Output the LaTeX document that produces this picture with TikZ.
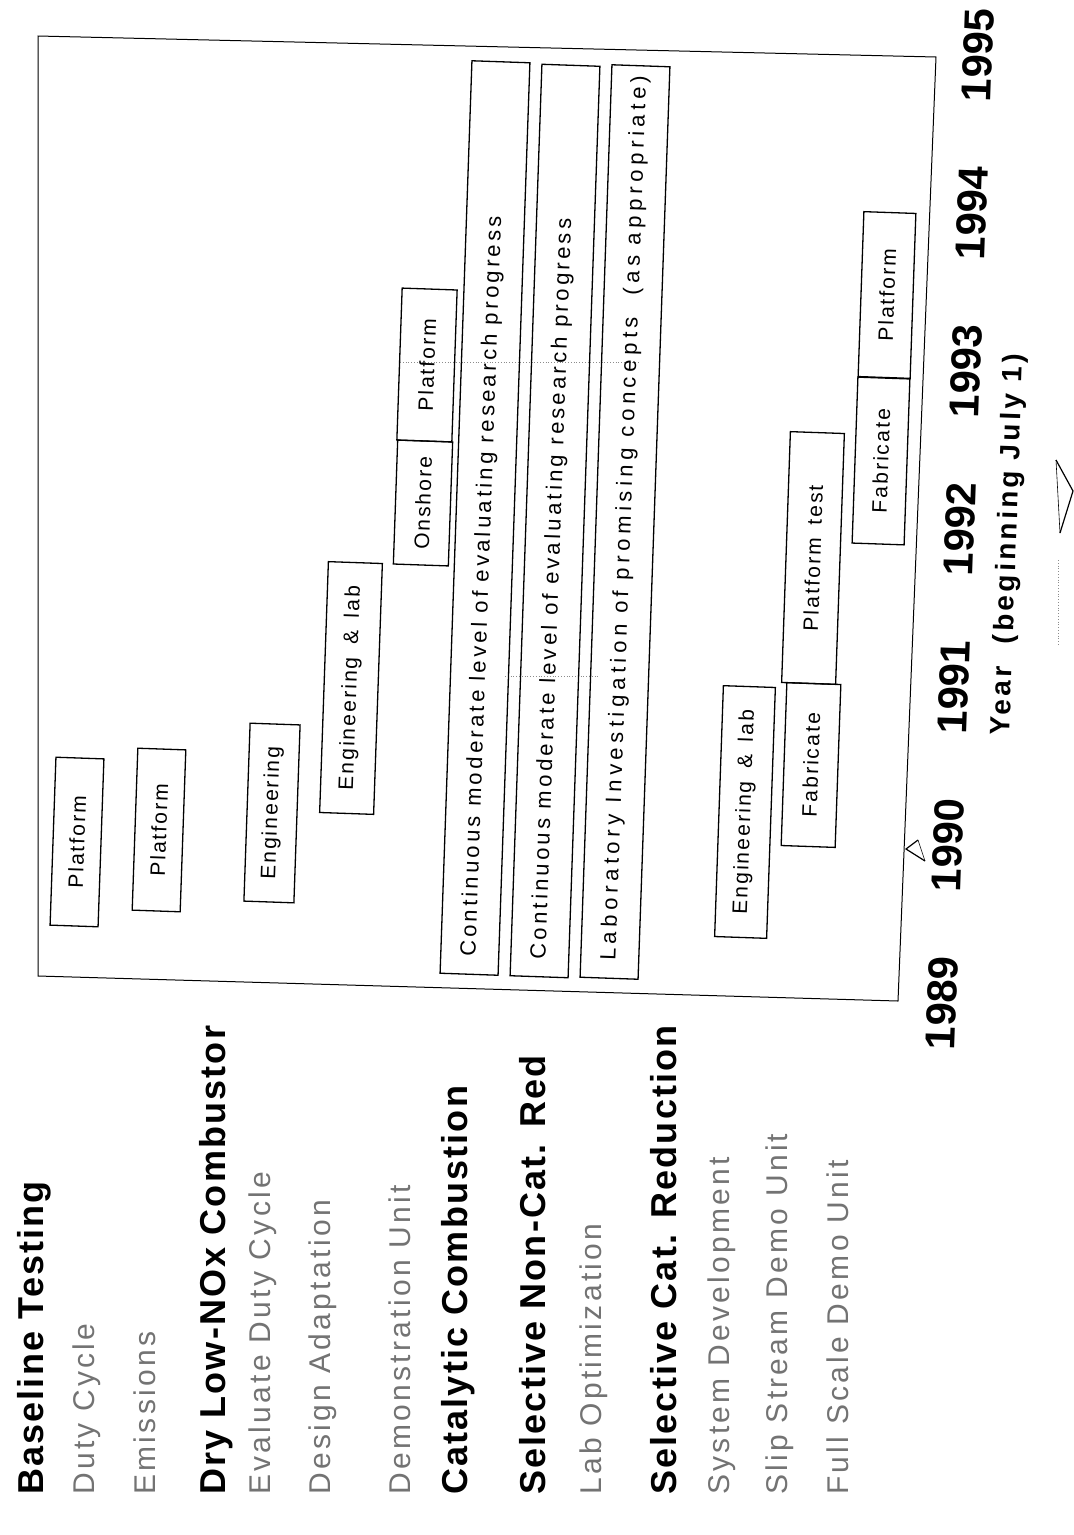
\documentclass[tikz,border=0pt]{standalone}
\usepackage{fontspec}
\setmainfont{Liberation Sans}
\newfontfamily\headfont[LetterSpace=6]{Liberation Sans}
\newfontfamily\rowfont[LetterSpace=11]{Liberation Sans}
\newfontfamily\barfont[LetterSpace=10,WordSpace=1.6]{Liberation Sans}
\newfontfamily\longfont[LetterSpace=15]{Liberation Sans}
\newfontfamily\labfont[LetterSpace=21]{Liberation Sans}
\newfontfamily\yearfont{Liberation Sans}
\newfontfamily\titlefont[LetterSpace=12]{Liberation Sans}

\begin{document}
\begin{tikzpicture}[x=1pt, y=1pt,
    head/.style={rotate=90, anchor=west, inner sep=0pt, font=\headfont\bfseries\fontsize{36}{40}\selectfont},
    row/.style={rotate=90, anchor=west, inner sep=0pt, text=black!55, font=\rowfont\fontsize{30}{34}\selectfont},
    task/.style={draw, line width=1.3pt, rotate=88, inner sep=0pt, font=\barfont\fontsize{21}{24}\selectfont},
    tasktext/.style={rotate=88, anchor=west, inner ysep=0pt, inner xsep=18pt},
    year/.style={rotate=88, inner sep=0pt, font=\yearfont\bfseries\fontsize{42}{46}\selectfont},
    ytitle/.style={rotate=88, inner sep=0pt, font=\titlefont\bfseries\fontsize{28}{30}\selectfont},
    speck/.style={dotted, black!45, line width=0.8pt}]

  \useasboundingbox (0,0) rectangle (1074,-1535);

  % ==================== row labels ====================
  \node[head] (hbase) at (34,-1495) {Baseline Testing};
  \node[row]  (rduty) at (87,-1495) {Duty Cycle};
  \node[row]  (remis) at (145,-1495) {Emissions};
  \node[head] (hdln)  at (216,-1495) {Dry Low-NOx Combustor};
  \node[row]  (reval) at (263,-1495) {Evaluate Duty Cycle};
  \node[row]  (rdes)  at (323,-1495) {Design Adaptation};
  \node[row]  (rdemo) at (400,-1495) {Demonstration Unit};
  \node[head] (hcat)  at (458,-1495) {Catalytic Combustion};
  \node[head] (hsncr) at (533,-1495) {Selective Non-Cat. Red};
  \node[row]  (rlab)  at (594,-1495) {Lab Optimization};
  \node[head] (hscr)  at (664,-1495) {Selective Cat. Reduction};
  \node[row]  (rsys)  at (722,-1495) {System Development};
  \node[row]  (rslip) at (780,-1495) {Slip Stream Demo Unit};
  \node[row]  (rfull) at (838,-1495) {Full Scale Demo Unit};

  % ==================== frame ====================
  \draw[line width=1pt] (38,-36) -- (936,-57) -- (898,-1001) -- (38,-976) -- cycle;
  % faint grid marks
  \draw[speck] (400,-362) -- (640,-362);
  \draw[speck] (505,-676) -- (600,-676);

  % ==================== bars ====================
  % baseline testing
  \node[task, minimum width=168pt, minimum height=48pt] (p1) at (77,-842) {Platform};
  \node[task, minimum width=162pt, minimum height=48pt] (p2) at (159,-830) {Platform};
  % dry low-NOx
  \node[task, minimum width=178pt, minimum height=50pt] (eng) at (272,-813) {Engineering};
  \node[task, minimum width=251pt, minimum height=54pt] (englab) at (351,-688) {Engineering \& lab};
  \node[task, minimum width=124pt, minimum height=55pt] (onshore) at (423,-503) {Onshore};
  \node[task, minimum width=152pt, minimum height=55pt] (platf) at (427,-365) {Platform};
  % catalytic, SNCR
  \node[task, minimum width=913pt, minimum height=58pt] (cont1) at (485,-518) {};
  \node[tasktext, font=\longfont\fontsize{22}{24}\selectfont] (cont1-txt) at (cont1.west)
    {Continuous moderate level of evaluating research progress};
  \node[task, minimum width=912pt, minimum height=58pt] (cont2) at (555,-521) {};
  \node[tasktext, font=\longfont\fontsize{22}{24}\selectfont] (cont2-txt) at (cont2.west)
    {Continuous moderate level of evaluating research progress};
  \node[task, minimum width=913pt, minimum height=58pt] (labinv) at (625,-522) {};
  \node[tasktext, font=\labfont\fontsize{22}{24}\selectfont] (labinv-txt) at (labinv.west)
    {Laboratory Investigation of promising concepts\ \ (as appropriate)};
  % SCR
  \node[task, minimum width=251pt, minimum height=52pt] (englab2) at (745,-812) {Engineering \& lab};
  \node[task, minimum width=163pt, minimum height=54pt] (fab1) at (811,-765) {Fabricate};
  \node[task, minimum width=251pt, minimum height=54pt] (ptest) at (813,-558) {Platform test};
  \node[task, minimum width=166pt, minimum height=52pt] (fab2) at (881,-461) {Fabricate};
  \node[task, minimum width=165pt, minimum height=52pt] (platf2) at (887,-295) {Platform};

  % ==================== year axis ====================
  \foreach \yr/\px/\py in {1989/942/1003, 1990/948/845, 1991/954/687, 1992/960/529,
                           1993/966/371, 1994/972/213, 1995/978/55}
    \node[year] (y\yr) at (\px,-\py) {\yr};
  \node[ytitle] (ytitle) at (1009,-545) {Year\ \ (beginning July 1)};

  % hand marks
  \draw[line width=1.2pt] (918,-840) -- (906,-849) -- (925,-861);
  \draw[line width=0.6pt] (918,-840) -- (925,-861);
  \draw[line width=1.2pt] (1056,-460) -- (1073,-491) -- (1060,-533);
  \draw[line width=0.6pt] (1056,-460) -- (1060,-533);
  \draw[speck] (1058,-560) -- (1058,-645);

\end{tikzpicture}
\end{document}
